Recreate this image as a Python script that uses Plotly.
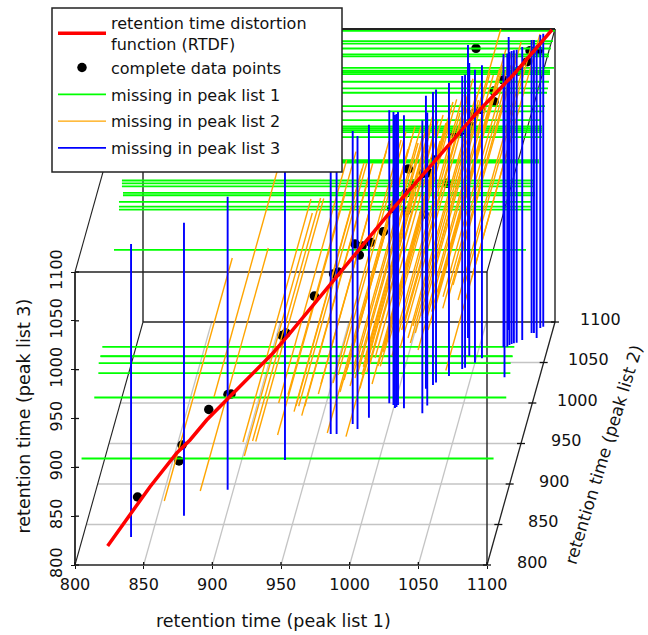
import plotly.graph_objects as go

tick_values = [800, 850, 900, 950, 1000, 1050, 1100]
grid_values = [850, 900, 950, 1000, 1050]

rtdf_x = [820.4, 846.9, 863.6, 871.9, 882.3, 894.8, 923.8, 934.4, 959.4, 980.2, 998.9, 1021.9, 1048.9, 1073.9, 1098.1]
rtdf_y = [820.4, 846.9, 863.6, 871.9, 882.3, 894.8, 923.8, 934.4, 959.4, 980.2, 998.9, 1021.9, 1048.9, 1073.9, 1098.1]
rtdf_z = [802.6, 841.3, 862, 868.4, 880.2, 890.3, 914.4, 926, 954.5, 978.2, 1000.3, 1023.8, 1052.6, 1074.6, 1100.6]

point_x = [839.1, 865, 866.9, 883.6, 895.6, 897.5, 929.4, 931.9, 949.6, 961.6, 964.4, 975, 977.7, 979.4, 984.8, 992.7,
           997.9, 1006.9, 1006.9, 1018.1, 1008.3, 1011.4, 1032.3, 1017.7, 1020.8, 1025, 1037.5, 1040.6, 1047.9, 1049.6,
           1053.6, 1061.9, 1061.9, 1067.7, 1077.1, 1082.7, 1084.4, 1089.4, 1045.8]
point_y = [839.1, 865, 866.9, 883.6, 895.6, 897.5, 929.4, 931.9, 949.6, 961.6, 964.4, 975, 977.7, 979.4, 984.8, 992.7,
           997.9, 1006.9, 1006.9, 1018.1, 1008.3, 1011.4, 1032.3, 1017.7, 1020.8, 1025, 1037.5, 1040.6, 1047.9, 1049.6,
           1053.6, 1061.9, 1061.9, 1067.7, 1077.1, 1082.7, 1084.4, 1089.4, 1080]
point_z = [837.2, 852.6, 867.4, 889.9, 895.3, 894.2, 927.7, 928.1, 951.3, 964, 963.7, 983.6, 970, 977.8, 977.1, 981.5,
           1000.9, 990.9, 1009.3, 978.5, 1032.8, 1014.5, 998.2, 1020.5, 1018.6, 1028.1, 1044, 1044.2, 1043.2, 1055.5,
           1056.3, 1068.1, 1057.2, 1074.6, 1076, 1080.9, 1090.7, 1086.6, 1096.8]

# missing in peak list 1: known (list 2, list 3)
green_y = [829, 885, 903, 904.5, 912, 913, 920.5, 972, 994, 994, 994, 1011.7, 1011.7, 1007, 1007, 1007, 1029, 1029, 1029,
           1042.6, 1042.6, 1042.6, 1042.6, 1042.6, 1034, 1051.4, 1056, 1064.7, 1069, 1073.5, 1078, 1078, 1078, 1095.5,
           1073.5, 1073.5, 1082, 1082, 1091, 1100]
green_z = [885, 901, 911, 920, 921, 920, 923.5, 980, 1003, 1006, 1011, 1003, 1005.5, 1016, 1019, 1022, 1022, 1023, 1024.5,
           1037, 1042, 1044, 1046, 1048, 1061.5, 1056, 1057.5, 1064, 1065, 1068, 1072, 1074, 1075.5, 1064,
           1094, 1096, 1095, 1100, 1095, 1098]

# missing in peak list 2: known (list 1, list 3)
orange_x = [865, 891.2, 901.2, 922.3, 923.3, 929.3, 931.6, 947.5, 948.3, 955.1, 959.5, 960.9, 962.9, 965.1, 967.3, 977.2,
            979.1, 983.7, 987.9, 991.5, 993, 995.9, 997.3, 998.1, 1000.3, 1002.4, 1003.9, 1006.1, 1007.5, 1009, 1009.9,
            1011, 1012.6, 1014.8, 1016.3, 1018.5, 1020.6, 1022.3, 1024.3, 1025.7, 1028.4, 1030.8, 1033, 1036.7, 1037.9,
            1040.3, 1042.5, 1044.2, 1046.1, 1047.8, 1049.8, 1052.7, 1055.1, 1057.1, 1059.7, 1060.5, 1062.2, 1064.3,
            1067.8, 1068, 1070, 1072.1, 1075.3, 1078.9, 1084, 1089.1]
orange_z = [865.5, 875.8, 972, 925.9, 911.6, 927, 926.5, 933.1, 965.9, 974.4, 957, 962.8, 962.5, 952.9, 962.5, 975.1,
            985.3, 935.2, 986.3, 994.5, 977.1, 989.4, 931.4, 1000, 983.3, 1000, 991.5, 997.6, 980.9, 994.5, 1003,
            1010.9, 997.6, 1005.8, 985.3, 1011.9, 1003.8, 1003.4, 1018.1, 1025.3, 1028, 1014, 1032.4, 1022.2, 1040.6,
            1049.1, 1032.4, 1027.3, 1044.7, 1037.5, 1020.1, 1054.9, 1052.9, 1040.6, 1059.4, 1099.7, 1063.1, 1079.5,
            1062.8, 1074.7, 999.1, 1075.1, 1086.7, 1071.3, 1088.7, 1094.9]

# missing in peak list 3: known (list 1, list 2)
blue_x = [835.1, 869.3, 895.8, 931.5, 959.5, 963.8, 973.5, 978, 984, 995.9, 999.3, 1001, 1001.9, 1002.6, 1007.6, 1022, 1024,
          1019.6, 1024, 1025.7, 1033.8, 1042, 1043.8, 1039.9, 1044.5, 1050, 1054.2, 1067.6, 1074.5, 1070.3, 1067.9,
          1071.5, 1072.9, 1074.4, 1076.3, 1079.8, 1085.2, 1086.9, 1089.9, 1090.5, 1092.4]
blue_y = [834.6, 860.9, 893, 929.6, 961.7, 961.7, 974, 967.9, 981.9, 999.6, 997.5, 993.8, 995, 997.5, 993.5, 987.3, 996.9,
          1017.7, 1022.2, 1025.3, 1033.3, 1042, 1043.6, 1080.2, 1058, 1049.8, 1055.2, 1069.1, 1031.7, 1069.5, 1090.1,
          1071.6, 1072.8, 1073.7, 1074.4, 1077.8, 1086.4, 1086.4, 1080.2, 1092.6, 1094.2]

LOW, HIGH = 800, 1100
X_PER_DEPTH = 0.16505      # sideways shear of the depth axis, in list-1 units
Z_PER_DEPTH = 0.8293       # upward shear of the depth axis, in list-3 units
PX_X = 412 / 300
PX_Z = 293 / 300


def proj(x, y, z):
    return x + (y - LOW) * X_PER_DEPTH, z + (y - LOW) * Z_PER_DEPTH


def polyline(triples):
    xs, zs = [], []
    for tr in triples:
        for a, b, c in tr:
            u, v = proj(a, b, c)
            xs.append(u)
            zs.append(v)
        xs.append(None)
        zs.append(None)
    return xs, zs


W, H = 648, 635
LEFT, BOTTOM = 75, 565          # pixel of the origin corner
PLOT_L, PLOT_B = 40, 592
x_range = [LOW - (LEFT - PLOT_L) / PX_X, LOW + (W - LEFT) / PX_X]
z_range = [LOW - (PLOT_B - BOTTOM) / PX_Z, LOW + BOTTOM / PX_Z]


def paper_x(px):
    return (px - PLOT_L) / (W - PLOT_L)


def paper_y(py):
    return (PLOT_B - py) / PLOT_B


fig = go.Figure()

# points first: the reference draws the line families on top of them
u, v = zip(*(proj(a, b, c) for a, b, c in zip(point_x, point_y, point_z)))
fig.add_trace(go.Scatter(x=u, y=v, mode="markers", name="complete data points", legendgroup="a", legendrank=2,
                         marker=dict(color="black", size=9.5)))
gx, gz = polyline([[(LOW, b, c), (HIGH, b, c)] for b, c in zip(green_y, green_z)])
fig.add_trace(go.Scatter(x=gx, y=gz, mode="lines", name="missing in peak list 1", legendgroup="c", legendrank=3,
                         line=dict(color="#00ff00", width=1.8)))
ox, oz = polyline([[(a, LOW, c), (a, HIGH, c)] for a, c in zip(orange_x, orange_z)])
fig.add_trace(go.Scatter(x=ox, y=oz, mode="lines", name="missing in peak list 2", legendgroup="d", legendrank=4,
                         line=dict(color="#ffa500", width=1.4)))
bx, bz = polyline([[(a, b, LOW), (a, b, HIGH)] for a, b in zip(blue_x, blue_y)])
fig.add_trace(go.Scatter(x=bx, y=bz, mode="lines", name="missing in peak list 3", legendgroup="e", legendrank=5,
                         line=dict(color="#0000ff", width=1.9)))
u, v = zip(*(proj(a, b, c) for a, b, c in zip(rtdf_x, rtdf_y, rtdf_z)))
fig.add_trace(go.Scatter(x=u, y=v, mode="lines", name="retention time distortion<br>function (RTDF)", legendgroup="a",
                         legendrank=1, line=dict(color="#ff0000", width=3.5)))

shapes = []


def seg(p, q, color="black", width=1.5):
    x0, y0 = proj(*p)
    x1, y1 = proj(*q)
    shapes.append(dict(type="line", xref="x", yref="y", x0=x0, y0=y0, x1=x1, y1=y1, layer="below",
                       line=dict(color=color, width=width)))


for g in grid_values:
    seg((g, LOW, LOW), (g, HIGH, LOW), "#c4c4c4", 1.3)
    seg((LOW, g, LOW), (HIGH, g, LOW), "#c4c4c4", 1.3)

seg((LOW, LOW, LOW), (HIGH, LOW, LOW), "#222222", 1.6)
seg((LOW, LOW, LOW), (LOW, LOW, HIGH), "#222222", 1.8)
seg((LOW, LOW, HIGH), (HIGH, LOW, HIGH), "#222222", 1.4)
seg((HIGH, LOW, LOW), (HIGH, LOW, HIGH), "#222222", 1.4)
seg((LOW, HIGH, LOW), (HIGH, HIGH, LOW), "#222222", 1.4)
seg((LOW, HIGH, LOW), (LOW, HIGH, HIGH), "#222222", 1.4)
seg((LOW, HIGH, HIGH), (HIGH, HIGH, HIGH), "#222222", 2)
seg((HIGH, HIGH, LOW), (HIGH, HIGH, HIGH), "#222222", 1.4)
seg((LOW, LOW, LOW), (LOW, HIGH, LOW), "#222222", 1.1)
seg((HIGH, LOW, LOW), (HIGH, HIGH, LOW), "#222222", 1.3)
seg((LOW, LOW, HIGH), (LOW, HIGH, HIGH), "#222222", 1.1)
seg((HIGH, LOW, HIGH), (HIGH, HIGH, HIGH), "#222222", 1.1)

# legend frame, opaque over the lines that run behind it
shapes.append(dict(type="rect", xref="paper", yref="paper", layer="above",
                   x0=paper_x(52), x1=paper_x(342), y0=paper_y(172), y1=paper_y(8),
                   fillcolor="white", line=dict(color="#222222", width=1.5)))

annotations = []
for t in tick_values:
    # inner half of the front ticks, and the whole tick of the depth axis
    seg((t, LOW, LOW), (t, LOW, LOW + 3 / PX_Z), "#111111", 1.3)
    seg((LOW, LOW, t), (LOW + 4 / PX_X, LOW, t), "#111111", 1.3)
    seg((HIGH - 4 / PX_X, t, LOW), (HIGH + 4 / PX_X, t, LOW), "#111111", 1.3)
    ax, az = proj(HIGH, t, LOW)
    annotations.append(dict(x=ax, y=az, xref="x", yref="y", text=str(t), showarrow=False,
                            xshift=45, yshift=3, font=dict(size=16)))

annotations += [
    dict(x=proj(950, LOW, LOW)[0], y=LOW, xref="x", yref="y", text="retention time (peak list 1)", showarrow=False,
         xshift=-8, yshift=-56, font=dict(size=17.5)),
    dict(x=LOW, y=950, xref="x", yref="y", text="retention time (peak list 3)", showarrow=False, textangle=-90,
         xshift=-52, yshift=2, font=dict(size=17.5)),
    dict(x=proj(HIGH, 950, LOW)[0], y=proj(HIGH, 950, LOW)[1], xref="x", yref="y",
         text="retention time (peak list 2)", showarrow=False, textangle=-73, xshift=82, yshift=-11,
         font=dict(size=17)),
]

fig.update_layout(
    width=W, height=H, autosize=False,
    margin=dict(l=PLOT_L, r=0, t=0, b=H - PLOT_B, pad=0),
    paper_bgcolor="white", plot_bgcolor="white",
    font=dict(family="DejaVu Sans", size=16, color="#111111"),
    shapes=shapes, annotations=annotations,
    legend=dict(x=paper_x(53), y=paper_y(6), xanchor="left", yanchor="top",
                bgcolor="rgba(0,0,0,0)", borderwidth=0,
                font=dict(size=16), itemwidth=48, tracegroupgap=3),
    xaxis=dict(range=x_range, tickvals=tick_values, ticks="outside", ticklen=3, tickwidth=1.3, tickcolor="#111111",
               showgrid=False, zeroline=False, showline=False, anchor="free", ticklabelstandoff=2,
               position=(PLOT_B - BOTTOM) / PLOT_B, tickfont=dict(size=16)),
    yaxis=dict(range=z_range, tickvals=tick_values, ticks="outside", ticklen=4, tickwidth=1.3, tickcolor="#111111",
               showgrid=False, zeroline=False, showline=False, anchor="free", tickangle=-90, ticklabelstandoff=3,
               position=(LEFT - PLOT_L) / (W - PLOT_L), tickfont=dict(size=16)),
)

fig.write_html("out.html", config={"displayModeBar": False}, post_script="document.body.style.margin='0';")
